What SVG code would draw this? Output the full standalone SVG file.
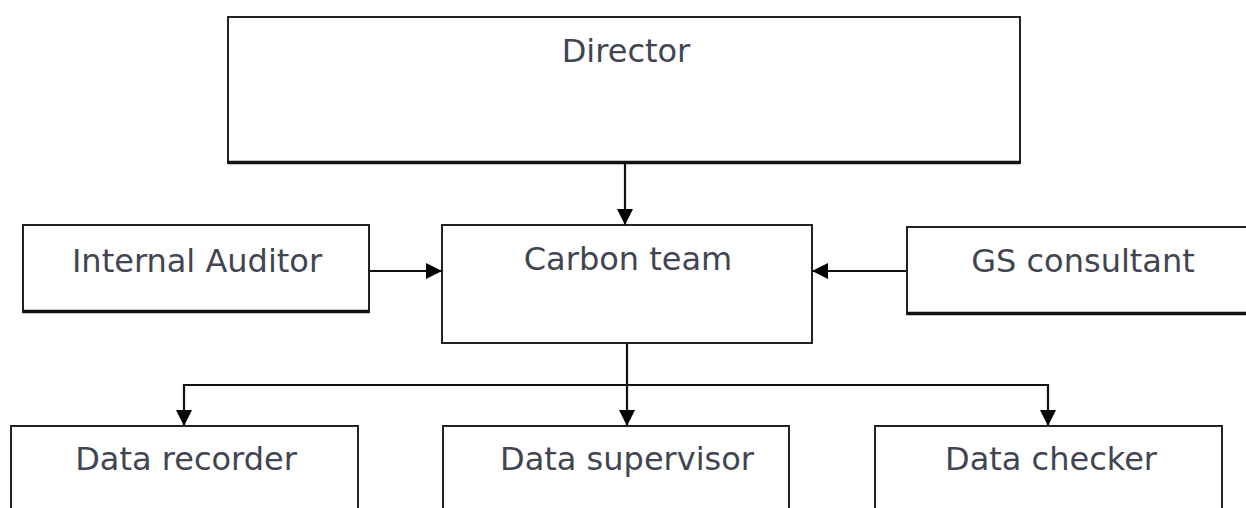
<svg xmlns="http://www.w3.org/2000/svg" width="1246" height="508" viewBox="0 0 1246 508">
<defs>
<style>
.box{fill:#fff;stroke:#222;stroke-width:2}
.thick{stroke:#111;stroke-width:3.5;fill:none}
.lbl{font-family:"DejaVu Sans","Verdana",sans-serif;font-size:32px;fill:#3f4652;text-anchor:middle}
.conn{stroke:#111;stroke-width:2.2;fill:none}
</style>
<marker id="ah" viewBox="0 0 16 16" refX="16" refY="8" markerWidth="16" markerHeight="16" markerUnits="userSpaceOnUse" orient="auto">
<path d="M0,0 L16,8 L0,16 Z" fill="#000"/>
</marker>
</defs>
<rect width="1246" height="508" fill="#fff"/>
<g id="director">
<rect class="box" x="228" y="17" width="792" height="146"/>
<line class="thick" x1="228" y1="162.5" x2="1020" y2="162.5"/>
<text class="lbl" x="626" y="62">Director</text>
</g>
<g id="internal-auditor">
<rect class="box" x="23" y="225" width="346" height="87"/>
<line class="thick" x1="23" y1="311.5" x2="369" y2="311.5"/>
<text class="lbl" x="197" y="272">Internal Auditor</text>
</g>
<g id="carbon-team">
<rect class="box" x="442" y="225" width="370" height="118"/>
<text class="lbl" x="628" y="270">Carbon team</text>
</g>
<g id="gs-consultant">
<rect class="box" x="907" y="227" width="360" height="87"/>
<line class="thick" x1="907" y1="313.5" x2="1246" y2="313.5"/>
<text class="lbl" x="1083" y="272">GS consultant</text>
</g>
<g id="data-recorder">
<rect class="box" x="11" y="426" width="347" height="100"/>
<text class="lbl" x="186" y="470">Data recorder</text>
</g>
<g id="data-supervisor">
<rect class="box" x="443" y="426" width="346" height="100"/>
<text class="lbl" x="627" y="470">Data supervisor</text>
</g>
<g id="data-checker">
<rect class="box" x="875" y="426" width="347" height="100"/>
<text class="lbl" x="1051" y="470">Data checker</text>
</g>
<g id="connectors">
<line class="conn" x1="625" y1="164" x2="625" y2="225" marker-end="url(#ah)"/>
<line class="conn" x1="370" y1="271" x2="442" y2="271" marker-end="url(#ah)"/>
<line class="conn" x1="906" y1="271" x2="812" y2="271" marker-end="url(#ah)"/>
<line class="conn" x1="627" y1="344" x2="627" y2="385"/>
<line class="conn" x1="184" y1="385" x2="1048" y2="385"/>
<line class="conn" x1="184" y1="384" x2="184" y2="426" marker-end="url(#ah)"/>
<line class="conn" x1="627" y1="385" x2="627" y2="426" marker-end="url(#ah)"/>
<line class="conn" x1="1048" y1="384" x2="1048" y2="426" marker-end="url(#ah)"/>
</g>
</svg>
